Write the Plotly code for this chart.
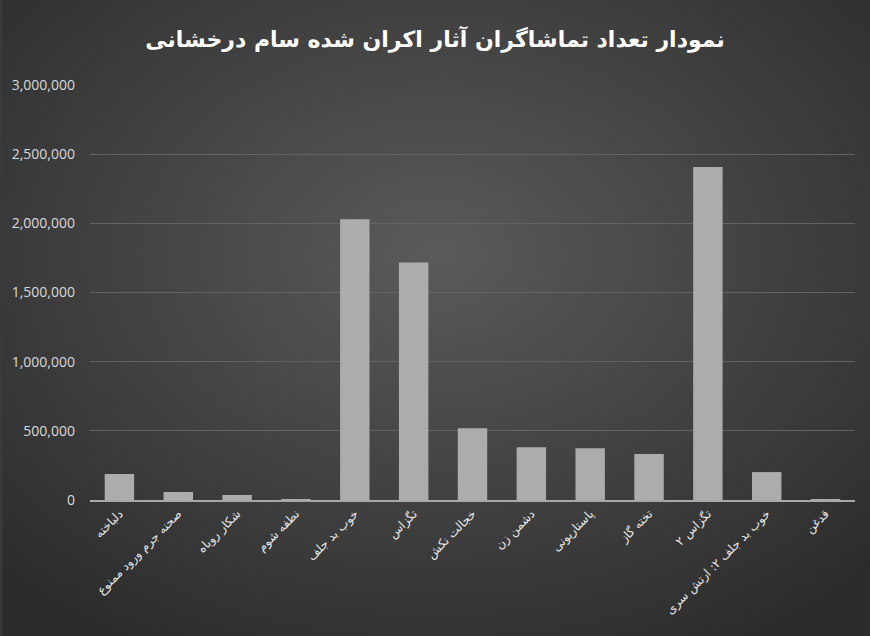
import base64
import plotly.graph_objects as go

# فیلم‌ها و تعداد تماشاگران
films = [
    "دلباخته",
    "صحنه جرم ورود ممنوع",
    "شکار روباه",
    "نطفه شوم",
    "خوب بد جلف",
    "تگزاس",
    "خجالت نکش",
    "دشمن زن",
    "پاستاریونی",
    "تخته گاز",
    "تگزاس ۲",
    "خوب بد جلف ۲: ارتش سری",
    "قدغن",
]
viewers = [188000, 58000, 36000, 4000, 2029000, 1717000, 519000,
           382000, 375000, 332000, 2408000, 202000, 3000]

y_ticks = [0, 500000, 1000000, 1500000, 2000000, 2500000, 3000000]

# radial gray background
svg = """<svg xmlns='http://www.w3.org/2000/svg' width='870' height='636' preserveAspectRatio='none'>
<defs><radialGradient id='g' cx='50%' cy='40%' r='70%'>
<stop offset='0%' stop-color='#5a5a5a'/><stop offset='100%' stop-color='#2c2c2c'/>
</radialGradient></defs><rect width='870' height='636' fill='url(#g)'/></svg>"""
bg = "data:image/svg+xml;base64," + base64.b64encode(svg.encode()).decode()

fig = go.Figure(go.Bar(
    x=films, y=viewers,
    marker=dict(color="#acacac", line=dict(width=0)),
))

# plot area size, used to place the background image
pw, ph = 870 - 88 - 15, 636 - 85 - 136

fig.update_layout(
    width=870, height=636,
    paper_bgcolor="#3a3a3a", plot_bgcolor="rgba(0,0,0,0)",
    margin=dict(l=88, r=15, t=85, b=136),
    bargap=0.5,
    showlegend=False,
    title=dict(text="<b>نمودار تعداد تماشاگران آثار اکران شده سام درخشانی</b>",
               x=0.5, y=0.95, xanchor="center",
               font=dict(family="DejaVu Sans", size=22, color="#ffffff")),
    images=[dict(source=bg, xref="paper", yref="paper",
                 x=-88 / pw, y=1 + 85 / ph, sizex=870 / pw, sizey=636 / ph,
                 xanchor="left", yanchor="top",
                 sizing="stretch", layer="below")],
)
fig.update_xaxes(tickangle=-45, tickfont=dict(family="DejaVu Sans", size=12, color="#e6e6e6"),
                 showline=True, linecolor="#a8a8a8", linewidth=2, showgrid=False)
fig.update_yaxes(range=[0, 3000000], tickvals=y_ticks, tickformat=",",
                 tickfont=dict(family="Open Sans", size=14, color="#d9d9d9"),
                 gridcolor="#636363", gridwidth=1, zeroline=False, ticklabelstandoff=14)

fig.write_html("out.html", config={"displayModeBar": False},
               post_script="document.body.style.margin='0';")
